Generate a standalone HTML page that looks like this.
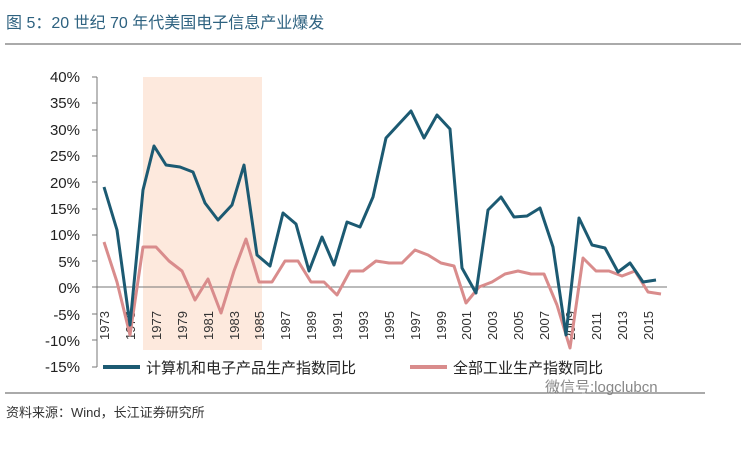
<!DOCTYPE html>
<html><head><meta charset="utf-8"><style>
body{margin:0;background:#fff;}
svg{display:block;font-family:"Liberation Sans","Noto Sans CJK SC",sans-serif;}
</style></head><body>
<svg width="741" height="449" viewBox="0 0 741 449" xmlns="http://www.w3.org/2000/svg">
<rect width="741" height="449" fill="#fff"/>
<text x="6" y="28" font-size="16" fill="#2e6280">图 5：20 世纪 70 年代美国电子信息产业爆发</text>
<line x1="5" y1="44" x2="741" y2="44" stroke="#555" stroke-width="1"/>
<rect x="143" y="77" width="119" height="273" fill="#fde9dd"/>
<g font-size="15" fill="#222" text-anchor="end">
<text x="80" y="82">40%</text><text x="80" y="108">35%</text><text x="80" y="135">30%</text>
<text x="80" y="161">25%</text><text x="80" y="188">20%</text><text x="80" y="214">15%</text>
<text x="80" y="240">10%</text><text x="80" y="267">5%</text><text x="80" y="293">0%</text>
<text x="80" y="320">-5%</text><text x="80" y="346">-10%</text><text x="80" y="372">-15%</text>
</g>
<g stroke="#777" stroke-width="1">
<line x1="97" y1="77" x2="97" y2="367"/>
<line x1="92" y1="77" x2="97" y2="77"/><line x1="92" y1="103" x2="97" y2="103"/><line x1="92" y1="130" x2="97" y2="130"/>
<line x1="92" y1="156" x2="97" y2="156"/><line x1="92" y1="182" x2="97" y2="182"/><line x1="92" y1="209" x2="97" y2="209"/>
<line x1="92" y1="235" x2="97" y2="235"/><line x1="92" y1="261" x2="97" y2="261"/><line x1="92" y1="287" x2="97" y2="287"/>
<line x1="92" y1="314" x2="97" y2="314"/><line x1="92" y1="340" x2="97" y2="340"/><line x1="92" y1="367" x2="97" y2="367"/>
<line x1="97" y1="287" x2="667" y2="287"/>
</g>
<g font-size="13" fill="#333" text-anchor="start">
<text transform="translate(109,340) rotate(-90)">1973</text>
<text transform="translate(135,340) rotate(-90)">1975</text>
<text transform="translate(161,340) rotate(-90)">1977</text>
<text transform="translate(187,340) rotate(-90)">1979</text>
<text transform="translate(213,340) rotate(-90)">1981</text>
<text transform="translate(239,340) rotate(-90)">1983</text>
<text transform="translate(264,340) rotate(-90)">1985</text>
<text transform="translate(290,340) rotate(-90)">1987</text>
<text transform="translate(316,340) rotate(-90)">1989</text>
<text transform="translate(342,340) rotate(-90)">1991</text>
<text transform="translate(368,340) rotate(-90)">1993</text>
<text transform="translate(394,340) rotate(-90)">1995</text>
<text transform="translate(420,340) rotate(-90)">1997</text>
<text transform="translate(446,340) rotate(-90)">1999</text>
<text transform="translate(471,340) rotate(-90)">2001</text>
<text transform="translate(497,340) rotate(-90)">2003</text>
<text transform="translate(523,340) rotate(-90)">2005</text>
<text transform="translate(549,340) rotate(-90)">2007</text>
<text transform="translate(575,340) rotate(-90)">2009</text>
<text transform="translate(601,340) rotate(-90)">2011</text>
<text transform="translate(627,340) rotate(-90)">2013</text>
<text transform="translate(653,340) rotate(-90)">2015</text>
</g>
<polyline fill="none" stroke="#d98c8c" stroke-width="3" stroke-linejoin="round" points="104,242 117,282 130,335 143,247 156,247 169,261 182,271 195,300 208,279 221,313 234,271 246,239 259,282 272,282 285,261 298,261 311,282 324,282 337,295 350,271 363,271 376,261 389,263 402,263 415,250 428,255 441,263 454,266 466,303 479,287 492,282 505,274 518,271 531,274 544,274 557,305 570,348 583,258 596,271 609,271 622,276 635,271 648,292 661,294"/>
<polyline fill="none" stroke="#1c5a72" stroke-width="3" stroke-linejoin="round" points="104,187 117,230 130,325 143,190 154,146 166,165 180,167 193,172 205,203 218,220 232,205 244,165 257,255 270,266 283,213 296,224 309,271 322,237 334,265 347,222 360,227 373,197 386,138 398,125 411,111 424,138 437,115 450,129 462,268 476,293 488,210 501,197 514,217 527,216 540,208 553,247 566,335 579,218 592,245 605,248 618,272 630,263 643,282 656,280"/>
<line x1="103" y1="367" x2="140" y2="367" stroke="#1c5a72" stroke-width="4"/>
<text x="146" y="373" font-size="15" fill="#222">计算机和电子产品生产指数同比</text>
<line x1="410" y1="367" x2="447" y2="367" stroke="#d98c8c" stroke-width="4"/>
<text x="453" y="373" font-size="15" fill="#222">全部工业生产指数同比</text>
<line x1="5" y1="393" x2="705" y2="393" stroke="#555" stroke-width="1"/>
<text x="545" y="392" font-size="15" fill="#888">微信号:logclubcn</text>
<text x="6" y="417" font-size="13" fill="#333">资料来源：Wind，长江证券研究所</text>
</svg>
</body></html>
